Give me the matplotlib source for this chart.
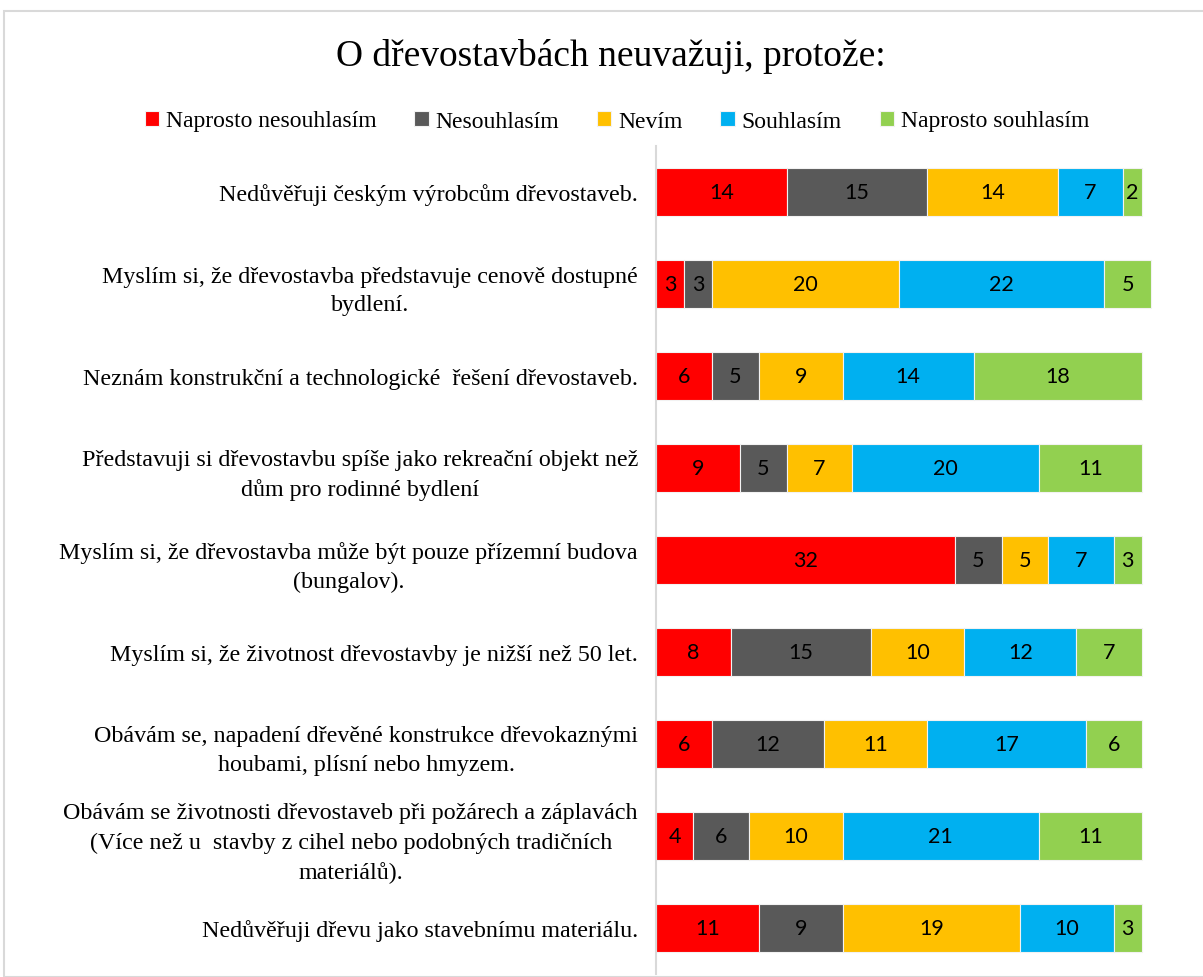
import matplotlib.pyplot as plt
import numpy as np
from matplotlib.patches import Rectangle

categories = [
    "Nedůvěřuji českým výrobcům dřevostaveb.",
    "Myslím si, že dřevostavba představuje cenově dostupné\nbydlení.",
    "Neznám konstrukční a technologické  řešení dřevostaveb.",
    "Představuji si dřevostavbu spíše jako rekreační objekt než\ndům pro rodinné bydlení",
    "Myslím si, že dřevostavba může být pouze přízemní budova\n(bungalov).",
    "Myslím si, že životnost dřevostavby je nižší než 50 let.",
    "Obávám se, napadení dřevěné konstrukce dřevokaznými\nhoubami, plísní nebo hmyzem.",
    "Obávám se životnosti dřevostaveb při požárech a záplavách\n(Více než u  stavby z cihel nebo podobných tradičních\nmateriálů).",
    "Nedůvěřuji dřevu jako stavebnímu materiálu.",
]

series_names = ["Naprosto nesouhlasím", "Nesouhlasím", "Nevím", "Souhlasím", "Naprosto souhlasím"]
naprosto_nesouhlasim = [14, 3, 6, 9, 32, 8, 6, 4, 11]
nesouhlasim = [15, 3, 5, 5, 5, 15, 12, 6, 9]
nevim = [14, 20, 9, 7, 5, 10, 11, 10, 19]
souhlasim = [7, 22, 14, 20, 7, 12, 17, 21, 10]
naprosto_souhlasim = [2, 5, 18, 11, 3, 7, 6, 11, 3]

colors = ["#FF0000", "#595959", "#FFC000", "#00B0F0", "#92D050"]

W, H = 1203, 978
fig = plt.figure(figsize=(W / 100, H / 100), dpi=100)

# chart border
fig.patches.append(Rectangle((4 / W, 0), 1.2, 1 - 12 / H, transform=fig.transFigure,
                             fill=False, edgecolor="#d9d9d9", linewidth=1.5))

ax = fig.add_axes([656 / W, 1 - 975 / H, (1190 - 656) / W, (975 - 147) / H])

y = np.arange(len(categories))
data = [naprosto_nesouhlasim, nesouhlasim, nevim, souhlasim, naprosto_souhlasim]
left = np.zeros(len(categories))
for name, vals, col in zip(series_names, data, colors):
    vals = np.array(vals)
    bars = ax.barh(y, vals, left=left, height=0.52, color=col, edgecolor="#f2f2f2",
                   linewidth=0.8, label=name)
    ax.bar_label(bars, labels=[str(v) for v in vals], label_type="center",
                 fontsize=15.5, family="Lato", color="black")
    left += vals

ax.set_ylim(8.5, -0.5)
ax.set_xlim(0, 534 / 9.34)
ax.set_yticks(y)
ax.set_yticklabels(categories, family="Liberation Serif", fontsize=17.3,
                   multialignment="center", linespacing=1.5)
ax.tick_params(axis="y", length=0, pad=13)
ax.set_xticks([])
for s in ["top", "right", "bottom"]:
    ax.spines[s].set_visible(False)
ax.spines["left"].set_color("#d9d9d9")
ax.spines["left"].set_linewidth(1.5)

fig.text(611 / W, 1 - 57 / H, "O dřevostavbách neuvažuji, protože:", ha="center", va="center",
         family="Liberation Serif", fontsize=27)

fig.legend(loc="center", bbox_to_anchor=(617 / W, 1 - 122 / H), ncol=5, frameon=False,
           prop={"family": "Liberation Serif", "size": 17}, handlelength=0.6, handleheight=0.6,
           handletextpad=0.3, columnspacing=1.6)

fig.savefig("out.png", dpi=100)
